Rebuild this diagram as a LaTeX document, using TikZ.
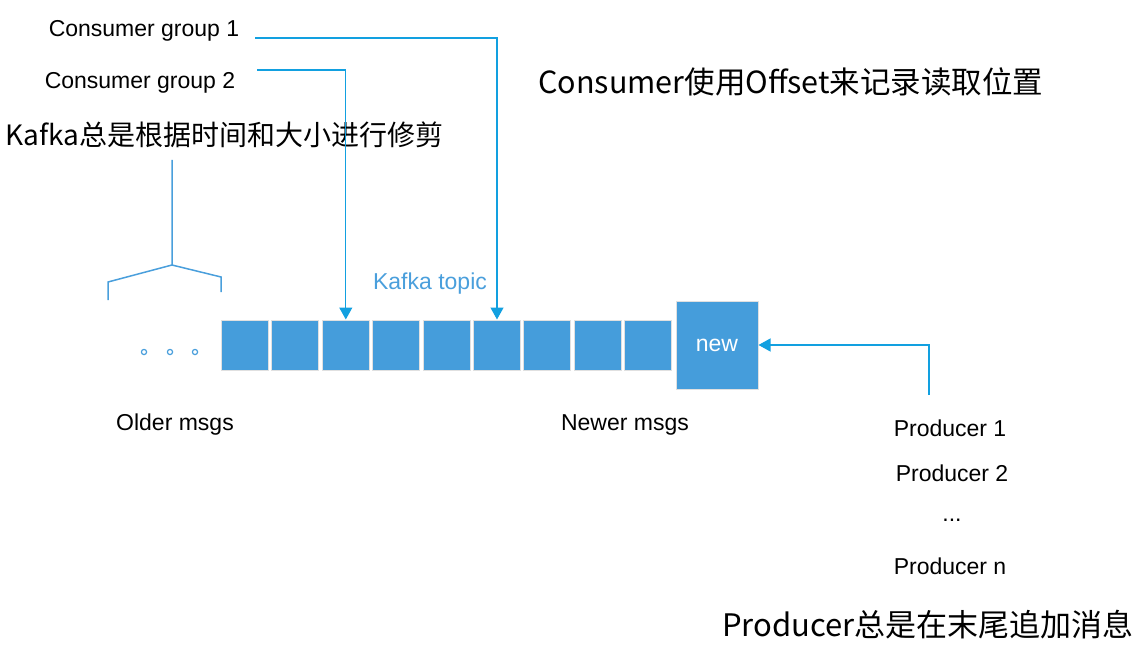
\documentclass[tikz,border=0pt]{standalone}
\usepackage{fontspec}
\setmainfont{Liberation Sans}
\newfontfamily\cjk{Noto Sans CJK SC}
\usetikzlibrary{positioning,calc,arrows.meta}
\definecolor{CELL}{HTML}{459DDB}
\definecolor{LINK}{HTML}{12A0E0}
\definecolor{BRACE}{HTML}{4A9FDC}
\tikzset{
    cell/.style={draw=black!12, line width=1pt, fill=CELL, inner sep=0pt,
        minimum width=47pt, minimum height=50pt},
    label/.style={font=\fontsize{23}{27}\selectfont, inner sep=0pt},
    title/.style={font=\cjk\fontsize{28}{33}\selectfont, inner sep=0pt, anchor=west},
    link/.style={draw=LINK, line width=1.3pt, -{Triangle[length=12pt,width=13pt]}},
}
\begin{document}
\begin{tikzpicture}[x=1pt,y=-1pt]
        \useasboundingbox (0,0) rectangle (1138,650);

        % the topic: old cells and the new one
        \foreach \i in {1,...,9}{\node[cell] (b\i) at ({245+50.4*(\i-1)},345) {};}
        \node[cell, minimum width=82pt, minimum height=88pt, text=white,
            font=\fontsize{23}{27}\selectfont] (new) at (717,345) {new};
        \node[label, text=BRACE] (topic) at (430,284) {Kafka topic};
        \foreach \x in {144,170,195}{\draw[BRACE, line width=1.2pt] (\x,352) circle (2.6);}

        % labels
        \node[label] (cg1) at (144,31) {Consumer group 1};
        \node[label] (cg2) at (140,83) {Consumer group 2};
        \node[title] (trim) at (5,135) {Kafka总是根据时间和大小进行修剪};
        \node[title, font=\cjk\fontsize{30.5}{35}\selectfont] (offset) at (538,82) {Consumer使用Offset来记录读取位置};
        \node[label] (older) at (175,425) {Older msgs};
        \node[label] (newer) at (625,425) {Newer msgs};
        \node[label] (p1) at (950,428) {Producer 1};
        \node[label] (p2) at (952,473) {Producer 2};
        \node[label] (pdots) at (952,520) {...};
        \node[label] (pn) at (950,566) {Producer n};
        \node[title, font=\cjk\fontsize{31}{36}\selectfont] (append) at (722,625) {Producer总是在末尾追加消息};

        % brace over the trimmed part
        \draw[BRACE, line width=1.5pt] (172,160) -- (172,265)
            (108,300) -- (108,282) -- (172,265) -- (221,277) -- (221,292);

        % offsets and producer
        \draw[link] ([shift={(16,7)}]cg1.east) -| (b6.north);
        \draw[link] ([shift={(22,-13)}]cg2.east) -| (b3.north);
        \coordinate (pin) at (929,395);
        \draw[link] (pin) |- (new.east);
    \end{tikzpicture}
\end{document}
